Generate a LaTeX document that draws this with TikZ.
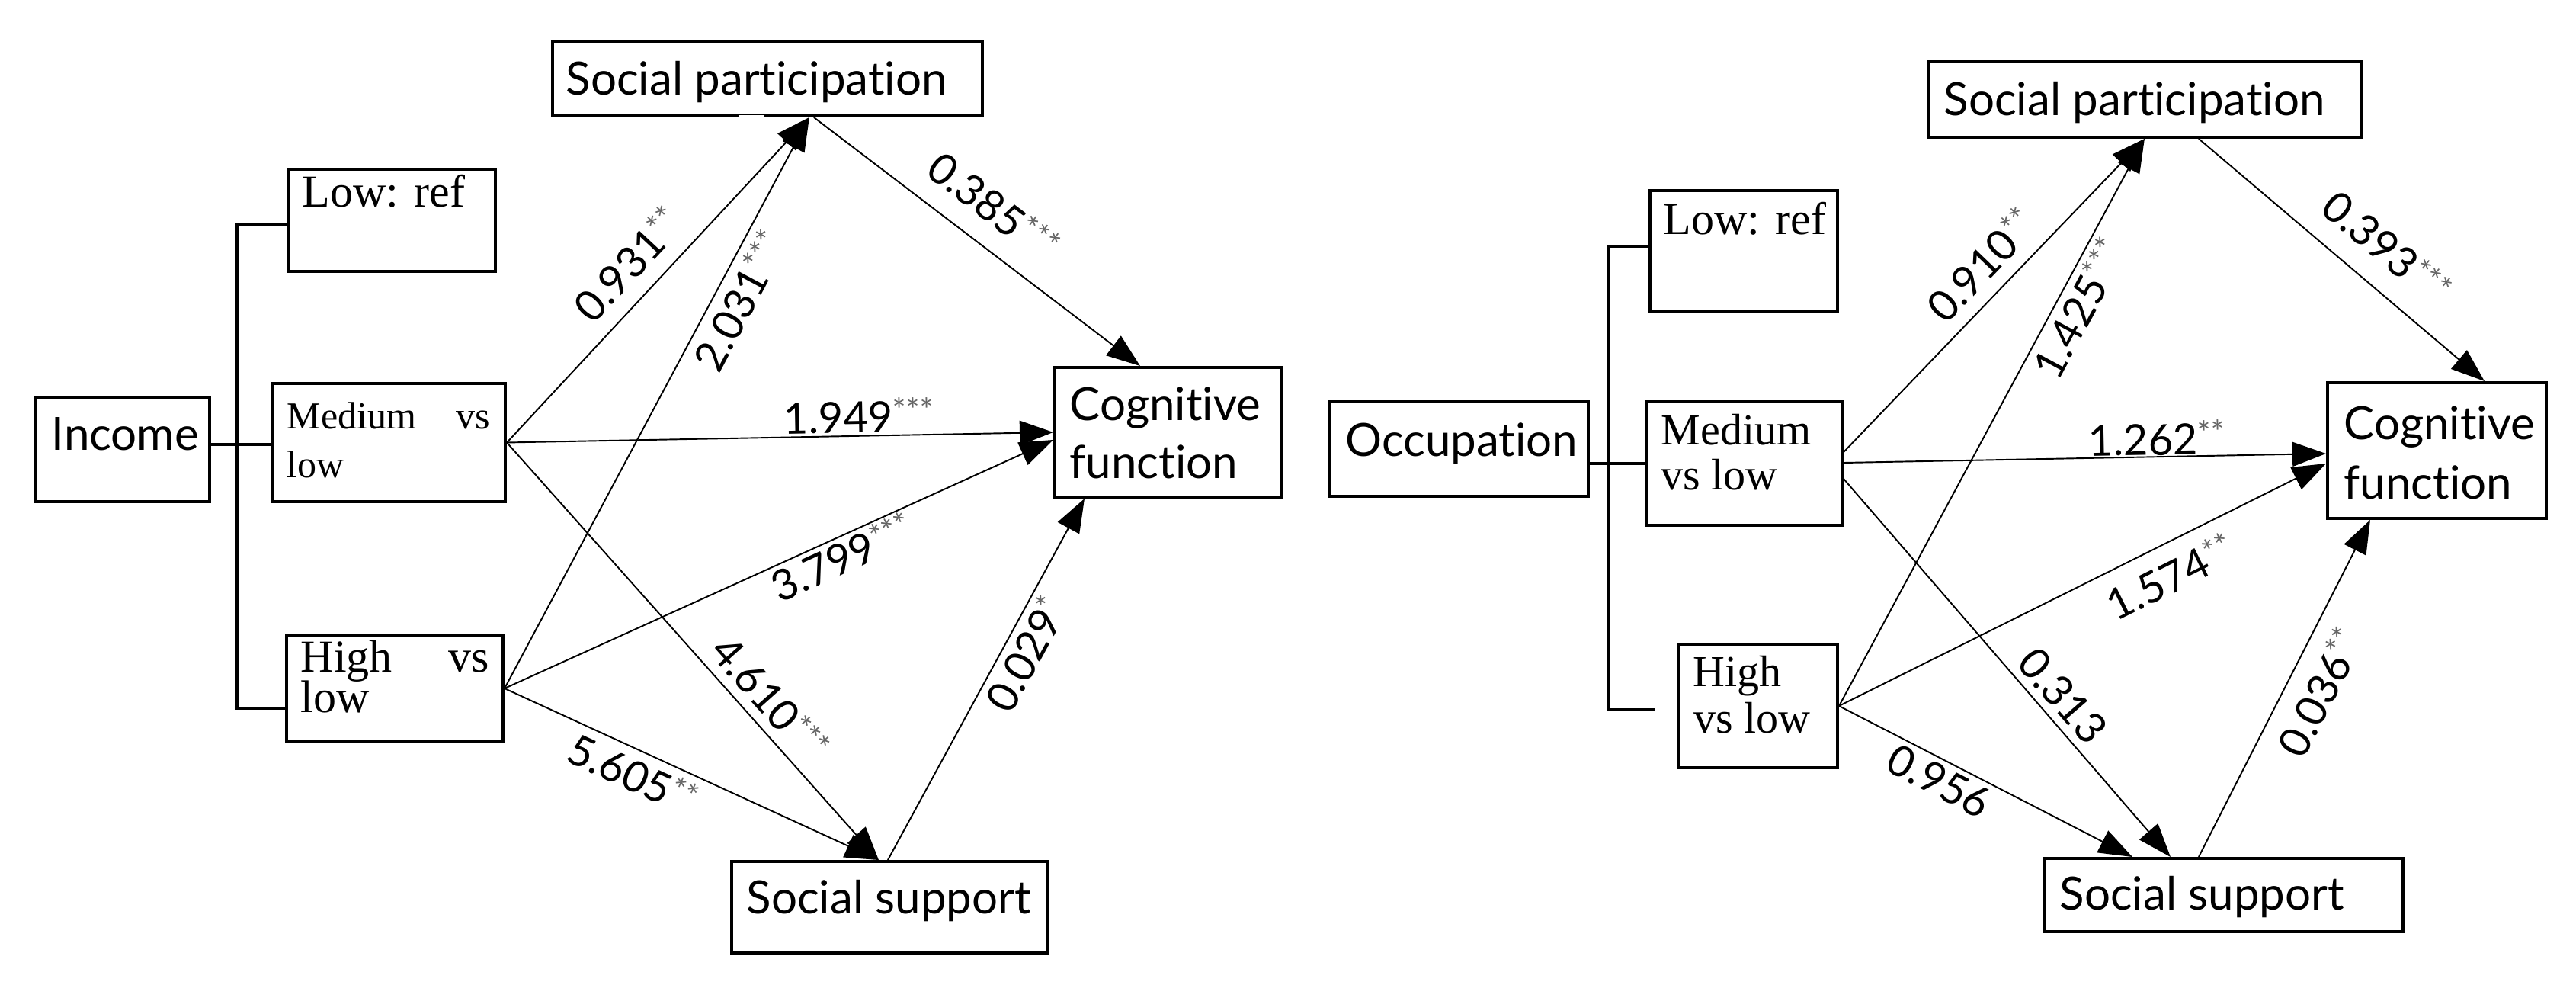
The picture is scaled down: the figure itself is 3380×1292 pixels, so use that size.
\documentclass[tikz,border=0pt]{standalone}
\usepackage{fontspec}
\setmainfont{Liberation Serif}
\newfontfamily\latofont[Ligatures=NoCommon]{Lato}
\usetikzlibrary{arrows.meta,calc}
\newcommand{\serA}{\fontsize{17.07pt}{20pt}\selectfont}
\newcommand{\serB}{\fontsize{14.23pt}{17pt}\selectfont}
\newcommand{\serC}{\fontsize{16.5pt}{19pt}\selectfont}
\newcommand{\stz}[1]{\raisebox{3.6pt}{\fontsize{12pt}{12pt}\selectfont\color{black!60}#1}}
\tikzset{
  box/.style={draw, line width=1.1pt, inner sep=0pt},
  stxt/.style={font=\latofont\fontsize{17.07pt}{20pt}\selectfont, inner sep=0pt, anchor=base west},
  rtxt/.style={inner sep=0pt, anchor=base west},
  conn/.style={line width=0.55pt, -{Triangle[length=0.44cm,width=0.32cm]}},
  brk/.style={line width=1.2pt},
  lab/.style={font=\latofont\fontsize{15.93pt}{18pt}\selectfont, sloped},
}
\begin{document}
\begin{tikzpicture}[x=0.01cm,y=-0.01cm]
\useasboundingbox (0,0) rectangle (3380,1292);
% ---------------- left panel ----------------
\node[box, minimum width=2.29cm, minimum height=1.36cm] (inc) at (160.5,590) {};
\node[box, minimum width=2.72cm, minimum height=1.34cm] (low1) at (514,289) {};
\node[box, minimum width=3.05cm, minimum height=1.55cm] (med1) at (510.5,580.5) {};
\node[box, minimum width=2.84cm, minimum height=1.40cm] (high1) at (518,903) {};
\node[box, minimum width=5.64cm, minimum height=0.98cm] (sp1) at (1007,103) {};
\node[box, minimum width=2.98cm, minimum height=1.70cm] (cf1) at (1533,567) {};
\node[box, minimum width=4.15cm, minimum height=1.20cm] (ss1) at (1167.5,1190) {};
\draw[white, line width=1.6pt] ($(sp1.south west)+(247,0)$) -- ($(sp1.south west)+(280,0)$);

\node[stxt] (tinc) at (67,591) {Income};
\node[rtxt, font=\serA] (tlow1) at (396,272) {Low: ref};
\node[rtxt, font=\serB] (tmed1a) at (376,563) {Medium};
\node[rtxt, font=\serB, anchor=base east] (tmed1b) at (644,563) {vs};
\node[rtxt, font=\serB] (tmed1c) at (376,627) {low};
\node[rtxt, font=\serA] (thigh1a) at (394,882) {High};
\node[rtxt, font=\serA, anchor=base east] (thigh1b) at (643,882) {vs};
\node[rtxt, font=\serA] (thigh1c) at (394,935) {low};
\node[stxt] (tsp1) at (742,125) {Social participation};
\node[stxt] (tcf1a) at (1403,552) {Cognitive};
\node[stxt] (tcf1b) at (1403,628) {function};
\node[stxt] (tss1) at (979,1199) {Social support};

\draw[brk] (low1.west |- 0,294) -- (311,294) -- (311,929) -- (high1.west |- 0,929);
\draw[brk] (inc.east |- 0,583) -- (med1.west |- 0,583);

\coordinate (sp1a) at ($(sp1.south west)+(339,0)$);
\coordinate (sp1b) at ($(sp1.south west)+(345,0)$);
\coordinate (cf1a) at ($(cf1.north west)+(114,0)$);
\coordinate (cf1m) at (cf1.west);
\coordinate (cf1h) at ($(cf1.west)+(0,10)$);
\coordinate (cf1s) at ($(cf1.south west)+(41,0)$);
\coordinate (ss1a) at ($(ss1.north west)+(195,0)$);
\coordinate (ss1b) at ($(ss1.north west)+(207,0)$);

\draw[conn] (med1.east) -- node[lab, above, inner sep=0.20cm, pos=.48] {0.931\stz{**}} (sp1a);
\draw[conn] (high1.east) -- node[lab, below, inner sep=0.09cm, pos=.70] {2.031\stz{***}} (sp1a);
\draw[conn] (sp1b) -- node[lab, above, inner sep=0.27cm, pos=.48] {0.385\stz{***}} (cf1a);
\draw[conn] (med1.east) -- node[lab, above, inner sep=0.03cm, pos=.645] {1.949\stz{***}} (cf1m);
\draw[conn] (high1.east) -- node[lab, below, inner sep=0.02cm, pos=.60] {3.799\stz{***}} (cf1h);
\draw[conn] (med1.east) -- node[lab, above, inner sep=0.12cm, pos=.655] {4.610\stz{***}} (ss1a);
\draw[conn] (high1.east) -- node[lab, below, inner sep=0.08cm, pos=.37] {5.605\stz{**}} (ss1a);
\draw[conn] (ss1b) -- node[lab, below, inner sep=0.06cm, pos=.60] {0.029\stz{*}} (cf1s);

% ---------------- right panel ----------------
\node[box, minimum width=3.39cm, minimum height=1.24cm] (occ) at (1914.5,589) {};
\node[box, minimum width=2.46cm, minimum height=1.58cm] (low2) at (2288,329) {};
\node[box, minimum width=2.57cm, minimum height=1.62cm] (med2) at (2288.5,608) {};
\node[box, minimum width=2.08cm, minimum height=1.62cm] (high2) at (2307,926) {};
\node[box, minimum width=5.68cm, minimum height=0.99cm] (sp2) at (2815,130.5) {};
\node[box, minimum width=2.87cm, minimum height=1.78cm] (cf2) at (3197.5,591) {};
\node[box, minimum width=4.70cm, minimum height=0.96cm] (ss2) at (2918,1174) {};

\node[stxt] (tocc) at (1765,599) {Occupation};
\node[rtxt, font=\serA] (tlow2) at (2182,308) {Low: ref};
\node[rtxt, font=\serC] (tmed2a) at (2179,584) {Medium};
\node[rtxt, font=\serC] (tmed2b) at (2179,643) {vs low};
\node[rtxt, font=\serC] (thigh2a) at (2221,901) {High};
\node[rtxt, font=\serC] (thigh2b) at (2222,962) {vs low};
\node[stxt] (tsp2) at (2550,152) {Social participation};
\node[stxt] (tcf2a) at (3075,577) {Cognitive};
\node[stxt] (tcf2b) at (3075,655) {function};
\node[stxt] (tss2) at (2702,1194) {Social support};

\draw[brk] (low2.west |- 0,323) -- (2110,323) -- (2110,931) -- (2171,931);
\draw[brk] (occ.east |- 0,608) -- (med2.west |- 0,608);

\coordinate (m2a) at ($(med2.north east)+(0,68)$);
\coordinate (m2b) at ($(med2.north east)+(0,82)$);
\coordinate (m2c) at ($(med2.north east)+(0,103)$);
\coordinate (sp2a) at ($(sp2.south west)+(285,0)$);
\coordinate (sp2b) at ($(sp2.south west)+(356,0)$);
\coordinate (cf2a) at ($(cf2.north west)+(208,0)$);
\coordinate (cf2m) at ($(cf2.north west)+(0,95)$);
\coordinate (cf2h) at ($(cf2.north west)+(0,108)$);
\coordinate (cf2s) at ($(cf2.south west)+(58,0)$);
\coordinate (ss2m) at ($(ss2.north west)+(167,0)$);
\coordinate (ss2h) at ($(ss2.north west)+(117,0)$);
\coordinate (ss2o) at ($(ss2.north west)+(204,0)$);

\draw[conn] (m2a) -- node[lab, above, inner sep=0.17cm, pos=.53] {0.910\stz{**}} (sp2a);
\draw[conn] (high2.east) -- node[lab, below, inner sep=0.06cm, pos=.72] {1.425\stz{***}} (sp2a);
\draw[conn] (sp2b) -- node[lab, above, inner sep=0.28cm, pos=.57] {0.393\stz{***}} (cf2a);
\draw[conn] (m2b) -- node[lab, above, inner sep=0.01cm, pos=.65] {1.262\stz{**}} (cf2m);
\draw[conn] (high2.east) -- node[lab, below, inner sep=0.18cm, pos=.65] {1.574\stz{**}} (cf2h);
\draw[conn] (m2c) -- node[lab, above, inner sep=0.10cm, pos=.615] {0.313} (ss2m);
\draw[conn] (high2.east) -- node[lab, below, inner sep=0.06cm, pos=.374] {0.956} (ss2h);
\draw[conn] (ss2o) -- node[lab, below, inner sep=0.20cm, pos=.534] {0.036\stz{**}} (cf2s);
\end{tikzpicture}
\end{document}
